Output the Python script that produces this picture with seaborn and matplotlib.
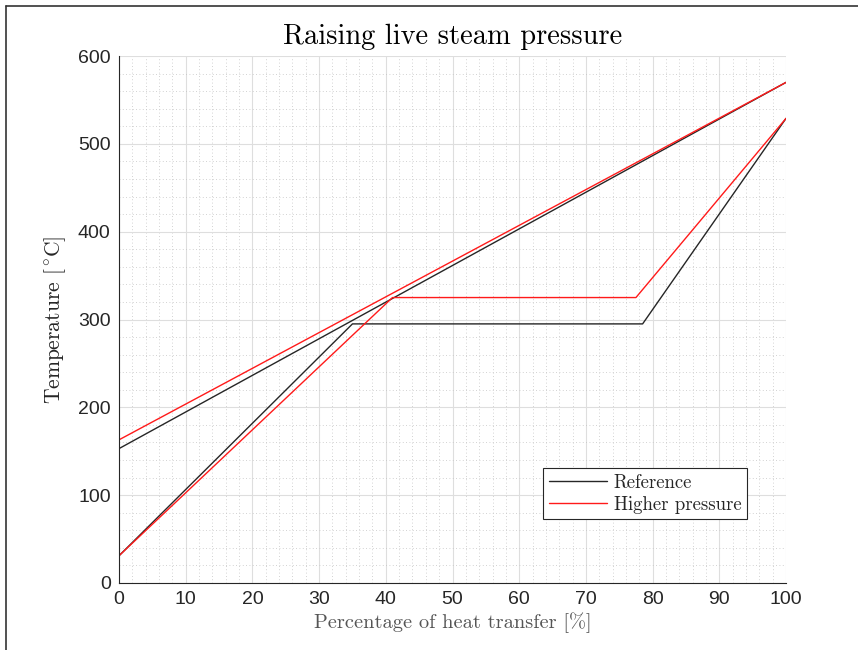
import matplotlib
matplotlib.use("Agg")
import matplotlib.pyplot as plt
import seaborn as sns
import numpy as np
import pandas as pd
from matplotlib.ticker import MultipleLocator
from matplotlib.lines import Line2D

# Data
ref_hot_x = [0, 100]
ref_hot_y = [153, 570]
hp_hot_x = [0, 100]
hp_hot_y = [163, 570]
ref_cold_x = [0, 35, 78.5, 100]
ref_cold_y = [31, 295, 295, 529]
hp_cold_x = [0, 41, 77.5, 100]
hp_cold_y = [31, 325, 325, 529]
series_names = ["Reference", "Higher pressure"]
x_ticks = list(range(0, 101, 10))
y_ticks = list(range(0, 601, 100))

sns.set_style("white")
plt.rcParams["mathtext.fontset"] = "cm"
plt.rcParams["font.family"] = ["Liberation Sans", "DejaVu Sans"]

fig = plt.figure(figsize=(8.58, 6.5), dpi=100)
ax = fig.add_axes([0.1387, 0.1031, 0.9161 - 0.1387, 0.9138 - 0.1031])

colors = {"Reference": "#262626", "Higher pressure": "#ff1a1a"}
lines = [
    ("Reference", ref_hot_x, ref_hot_y),
    ("Higher pressure", hp_hot_x, hp_hot_y),
    ("Reference", ref_cold_x, ref_cold_y),
    ("Higher pressure", hp_cold_x, hp_cold_y),
]
for name, xs, ys in lines:
    df = pd.DataFrame({"x": xs, "y": ys})
    sns.lineplot(data=df, x="x", y="y", ax=ax, color=colors[name],
                 linewidth=1.0, sort=False, estimator=None, legend=False)

ax.set_xlim(0, 100)
ax.set_ylim(0, 600)
ax.set_xticks(x_ticks)
ax.set_yticks(y_ticks)
ax.xaxis.set_minor_locator(MultipleLocator(2))
ax.yaxis.set_minor_locator(MultipleLocator(20))
ax.grid(True, which="major", color="#dedede", linewidth=0.8, linestyle="-")
ax.grid(True, which="minor", color="#c4c4c4", linewidth=0.6, linestyle=(0, (1, 3)))
ax.set_axisbelow(True)

for s in ["top", "right"]:
    ax.spines[s].set_visible(False)
for s in ["left", "bottom"]:
    ax.spines[s].set_color("#262626")
    ax.spines[s].set_linewidth(0.8)

ax.tick_params(which="major", direction="in", length=5, width=0.8, color="#262626",
               labelsize=14, labelcolor="#262626", pad=6)
ax.tick_params(which="minor", length=0)

ax.set_title("Raising live steam pressure", fontfamily="cmr10", fontsize=20.5,
             color="black", pad=9)
ax.set_xlabel("Percentage of heat transfer [%]", fontfamily="cmr10", fontsize=14.7,
              color="#555555", labelpad=3)
ax.set_ylabel(r"Temperature $[^\circ\!\mathrm{C}]$", fontfamily="cmr10", fontsize=15.5,
              color="#262626", labelpad=7)

handles = [Line2D([0], [0], color=colors[n], linewidth=1.0) for n in series_names]
leg = ax.legend(handles, series_names, loc="lower left", bbox_to_anchor=(0.636, 0.121),
                fancybox=False, framealpha=1, edgecolor="#262626", handlelength=3.1,
                prop={"family": "cmr10", "size": 13.5}, borderpad=0.3, labelspacing=0.2,
                handletextpad=0.35, borderaxespad=0)
leg.get_frame().set_linewidth(0.8)
for t in leg.get_texts():
    t.set_color("#262626")

# figure border (left and top)
fig.add_artist(Line2D([0.0075, 0.0075], [0.0, 0.991], transform=fig.transFigure,
                      color="#333333", linewidth=1.2))
fig.add_artist(Line2D([0.0075, 1.0], [0.991, 0.991], transform=fig.transFigure,
                      color="#333333", linewidth=1.2))

fig.savefig("out.png", dpi=100)
